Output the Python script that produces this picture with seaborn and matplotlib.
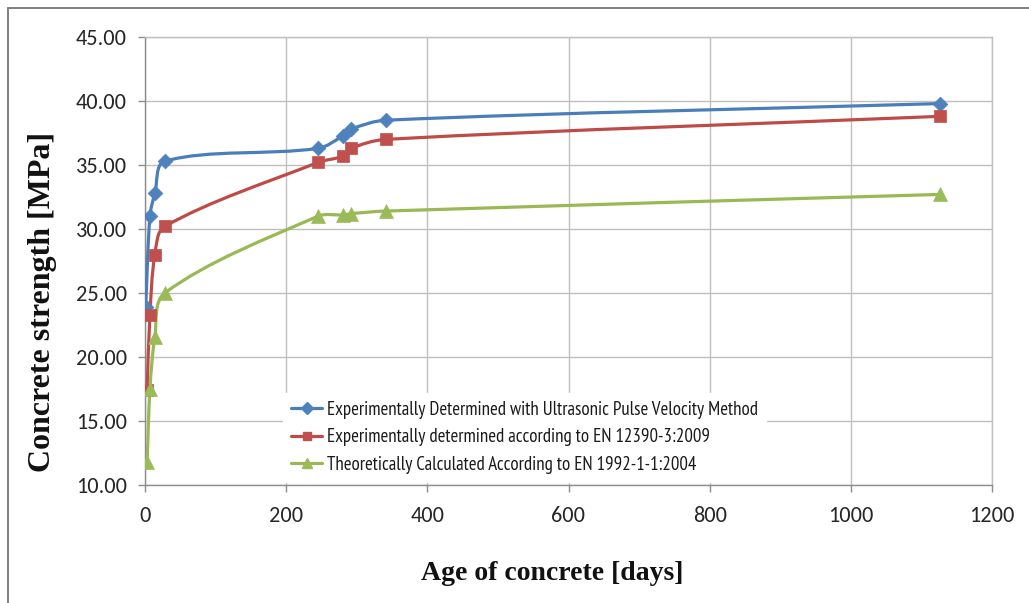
import numpy as np
import pandas as pd
import matplotlib
matplotlib.use("Agg")
import matplotlib.pyplot as plt
import seaborn as sns
from matplotlib.path import Path
from matplotlib.patches import PathPatch
from matplotlib.lines import Line2D

# ---- data ----
days_ultrasonic = [1, 7, 14, 28, 245, 281, 292, 341, 1126]
days_standard = [3, 7, 14, 28, 245, 281, 292, 341, 1126]
ultrasonic = [23.9, 31.0, 32.8, 35.3, 36.3, 37.3, 37.8, 38.5, 39.8]
en12390 = [17.4, 23.3, 28.0, 30.2, 35.2, 35.7, 36.3, 37.0, 38.8]
en1992 = [11.8, 17.5, 21.6, 25.0, 31.0, 31.1, 31.2, 31.4, 32.7]
series_names = [
    "Experimentally Determined with Ultrasonic Pulse Velocity Method",
    "Experimentally determined according to EN 12390-3:2009",
    "Theoretically Calculated According to EN 1992-1-1:2004",
]
x_ticks = [0, 200, 400, 600, 800, 1000, 1200]
y_ticks = [10, 15, 20, 25, 30, 35, 40, 45]
x_label = "Age of concrete [days]"
y_label = "Concrete strength [MPa]"

line_colors = ["#4A7EBB", "#BE4B48", "#98B954"]
marker_colors = ["#4F81BD", "#C0504D", "#9BBB59"]
markers = ["D", "s", "^"]
marker_sizes = [7.5, 8.0, 10.0]

sns.set_theme(style="white")
plt.rcParams["font.family"] = ["Carlito", "Lato", "DejaVu Sans"]

W, H = 1029, 603
fig = plt.figure(figsize=(W / 100, H / 100), dpi=100)
ax = fig.add_axes([145 / W, 1 - 485 / H, 847 / W, 448 / H])
ax.set_xlim(0, 1200)
ax.set_ylim(10, 45)

df = pd.DataFrame({
    "day": days_ultrasonic + days_standard + days_standard,
    "strength": ultrasonic + en12390 + en1992,
    "series": [series_names[0]] * len(ultrasonic)
    + [series_names[1]] * len(en12390)
    + [series_names[2]] * len(en1992),
})


def smooth_path(xs, ys):
    """Excel-like smoothed line: cubic Bezier through points, tangents
    computed in display space and scaled by neighbouring segment lengths."""
    pts = ax.transData.transform(np.column_stack([xs, ys]).astype(float))
    n = len(pts)
    verts = [pts[0]]
    codes = [Path.MOVETO]

    def ctrl(i, direction):
        prev_p = pts[i - 1] if i > 0 else pts[i]
        next_p = pts[i + 1] if i < n - 1 else pts[i]
        l_in = np.linalg.norm(pts[i] - prev_p)
        l_out = np.linalg.norm(next_p - pts[i])
        tot = l_in + l_out
        if tot == 0:
            return pts[i]
        tan = next_p - prev_p
        if direction > 0:
            return pts[i] + tan * l_out / (3 * tot)
        return pts[i] - tan * l_in / (3 * tot)

    for i in range(n - 1):
        c1 = ctrl(i, +1)
        c2 = ctrl(i + 1, -1)
        verts += [c1, c2, pts[i + 1]]
        codes += [Path.CURVE4] * 3
    verts = ax.transData.inverted().transform(np.array(verts))
    return Path(verts, codes)


for k, name in enumerate(series_names):
    sub = df[df["series"] == name]
    patch = PathPatch(smooth_path(sub["day"].values, sub["strength"].values),
                      fill=False, edgecolor=line_colors[k], lw=2.3,
                      transform=ax.transData, zorder=3, capstyle="round",
                      joinstyle="round")
    ax.add_patch(patch)
    sns.scatterplot(data=sub, x="day", y="strength", ax=ax,
                    color=marker_colors[k], marker=markers[k],
                    s=marker_sizes[k] ** 2, edgecolor=marker_colors[k],
                    linewidth=0.5, zorder=4, legend=False)

ax.set_xticks(x_ticks)
ax.set_yticks(y_ticks)
ax.set_yticklabels([f"{v:.2f}" for v in y_ticks])
ax.grid(True, color="#BFBFBF", lw=1.0)
ax.set_axisbelow(True)
for side in ["left", "bottom"]:
    ax.spines[side].set_color("#8C8C8C")
    ax.spines[side].set_linewidth(1.0)
for side in ["top", "right"]:
    ax.spines[side].set_color("#BFBFBF")
    ax.spines[side].set_linewidth(1.0)
ax.tick_params(axis="both", direction="out", length=5, width=1.0,
               color="#8C8C8C", labelsize=16, labelcolor="#262626")
ax.tick_params(axis="y", pad=8, left=True)
ax.tick_params(axis="x", pad=10, bottom=True)

ax.set_xlabel(x_label, fontsize=20, fontweight="bold",
              family=["Liberation Serif", "DejaVu Serif"], color="#111111")
ax.set_ylabel(y_label, fontsize=23, fontweight="bold",
              family=["Liberation Serif", "DejaVu Serif"], color="#111111")
ax.xaxis.set_label_coords((552 - 145) / 847, (485 - 573) / 448)
ax.yaxis.set_label_coords((43 - 145) / 847, (485 - 302) / 448)
ax.xaxis.label.set_verticalalignment("center")
ax.yaxis.label.set_verticalalignment("center")

handles = [Line2D([0], [0], color=line_colors[k], lw=2.3, marker=markers[k],
                  markersize=[6, 6, 7][k], markerfacecolor=marker_colors[k],
                  markeredgecolor=marker_colors[k])
           for k in range(3)]
leg = ax.legend(handles, series_names, loc="upper left",
                bbox_to_anchor=((283 - 145) / 847, (485 - 393) / 448),
                frameon=True, facecolor="white", edgecolor="white",
                framealpha=1.0, fancybox=False,
                prop={"family": ["PT Sans Narrow", "Carlito", "DejaVu Sans"],
                      "size": 13.6},
                handlelength=1.65, handletextpad=0.26, labelspacing=0.5,
                borderpad=0.42, borderaxespad=0.0)
leg.set_zorder(5)
for t in leg.get_texts():
    t.set_color("#1a1a1a")

# outer chart-area border (top and left edges visible)
fig.add_artist(Line2D([8 / W, 1.0], [1 - 8 / H, 1 - 8 / H],
                      transform=fig.transFigure, color="#7F7F7F", lw=1.4))
fig.add_artist(Line2D([8 / W, 8 / W], [0.0, 1 - 8 / H],
                      transform=fig.transFigure, color="#7F7F7F", lw=1.4))

fig.savefig("out.png", dpi=100, facecolor="white")
